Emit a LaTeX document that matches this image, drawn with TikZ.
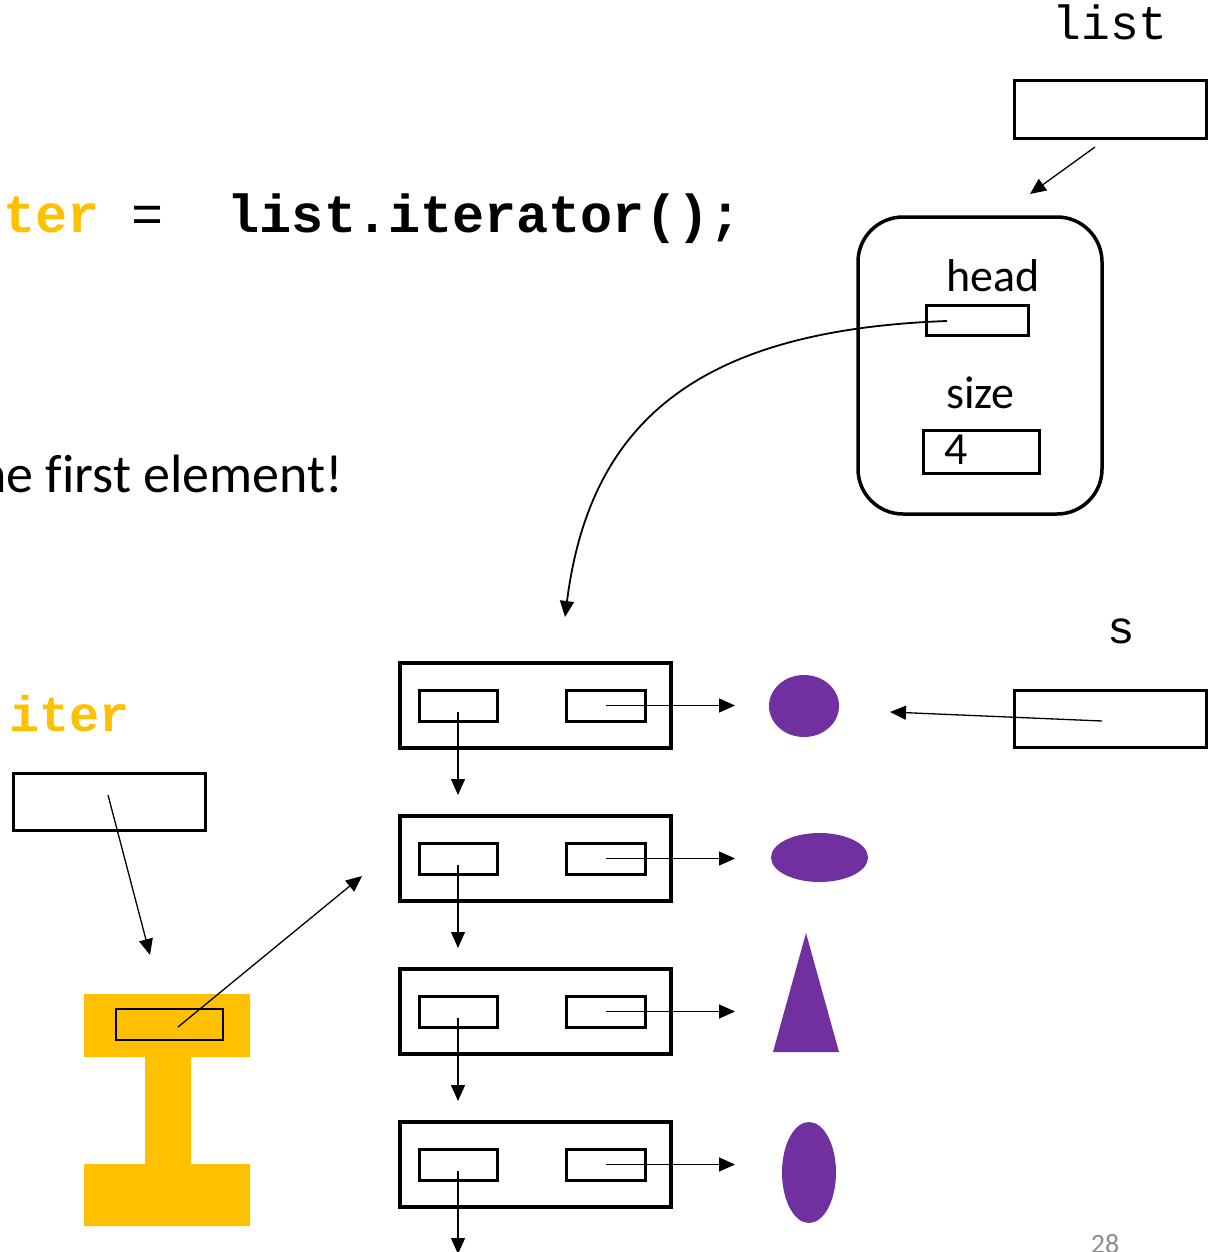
\documentclass[tikz,border=0pt]{standalone}
\usepackage{fontspec}
\setmainfont{Carlito}
\newfontfamily\codefont{Liberation Mono}
\newfontfamily\slidefont[Ligatures=NoCommon]{Carlito}
\usetikzlibrary{arrows.meta,shapes.geometric}
\definecolor{iterYellow}{HTML}{FFC000}
\definecolor{shapePurple}{HTML}{7030A0}
\definecolor{pageGray}{HTML}{8C8C8C}

\begin{document}
\begin{tikzpicture}[x=1pt,y=-1pt,
  ptr/.style={-{Triangle[length=16pt,width=14pt]}, line width=1.3pt},
  cellbox/.style={draw, line width=3pt, inner sep=0pt, outer sep=0pt, fill=white},
  nodebox/.style={draw, line width=3.5pt, inner sep=0pt, outer sep=0pt},
  blob/.style={ellipse, fill=shapePurple, draw=none, inner sep=0pt, outer sep=0pt},
  code/.style={inner sep=0pt, outer sep=0pt, font=\codefont},
  label/.style={inner sep=0pt, outer sep=0pt, font=\slidefont}]
\useasboundingbox (0,0) rectangle (1217,1252);

% code line and remark
\node[code, anchor=base west] (codeline) at (3,233)
  {\fontsize{53.5}{64}\selectfont{\bfseries\color{iterYellow}ter}\ =\ \ {\bfseries list.iterator();}};
\node[label, anchor=base east] (remark) at (343,492)
  {\fontsize{54}{64}\selectfont he first element!};

% the list variable and the list object
\node[code, anchor=base] (listname) at (1110,40) {\fontsize{48}{58}\selectfont list};
\node[cellbox, minimum width=192pt, minimum height=58pt] (listvar) at (1110.5,109.5) {};
\node[draw, line width=3.5pt, rounded corners=45pt, inner sep=0pt,
      minimum width=244pt, minimum height=297pt] (listobj) at (980,365.5) {};
\node[label, anchor=base] (headlbl) at (993,291) {\fontsize{46}{54}\selectfont head};
\node[cellbox, minimum width=102pt, minimum height=30pt] (head) at (977,320) {};
\node[label, anchor=base] (sizelbl) at (980.5,408) {\fontsize{46}{54}\selectfont size};
\node[cellbox, minimum width=116pt, minimum height=43pt] (size) at (981,451.5) {};
\node[label, anchor=base west] (sizeval) at (944,464) {\fontsize{46}{54}\selectfont 4};

\coordinate (listfrom) at (1095,147);
\coordinate (listto) at (1030,194);
\draw[ptr] (listfrom) -- (listto);

\coordinate (headfrom) at (947,321);
\coordinate (headto) at (565,617);
\draw[ptr, line width=1.8pt] (headfrom) .. controls (700,330) and (590,420) .. (headto);

% the chain of list nodes and their elements
\foreach \i/\y in {1/705.5,2/858.5,3/1011.5,4/1164.5}{
  \node[nodebox, minimum width=271pt, minimum height=85pt] (n\i) at (535.5,\y) {};
  \node[cellbox, minimum width=78pt, minimum height=31pt] (l\i) at (458,\y+0.5) {};
  \node[cellbox, minimum width=79pt, minimum height=31pt] (r\i) at (605.5,\y) {};
  \coordinate (e\i) at (735,\y);
  \coordinate (d\i) at (458,\y+89.5);
  \draw[ptr] (r\i.center) -- (e\i);
  \draw[ptr] ([yshift=-6pt]l\i.center) -- (d\i);
}

\node[blob, minimum width=70pt, minimum height=62pt] (o1) at (804,706) {};
\node[blob, minimum width=97pt, minimum height=49pt] (o2) at (819.5,857.5) {};
\fill[shapePurple] (806,933) -- (839,1052) -- (773,1052) -- cycle;
\node[blob, minimum width=54pt, minimum height=101pt] (o4) at (809,1172.5) {};

% the variable s
\node[code, anchor=base] (sname) at (1121,643) {\fontsize{46}{58}\selectfont s};
\node[cellbox, minimum width=192pt, minimum height=57pt] (svar) at (1110.5,718.5) {};
\coordinate (sfrom) at (1102,721);
\coordinate (sto) at (890,712);
\draw[ptr] (sfrom) -- (sto);

% the iterator variable and the iterator object
\node[code, anchor=base] (itername) at (69.5,731)
  {\fontsize{50}{60}\selectfont\bfseries\color{iterYellow}iter};
\node[cellbox, minimum width=192pt, minimum height=57pt] (itervar) at (109,801.5) {};
\fill[iterYellow] (84,994) -- (250,994) -- (250,1057) -- (191,1057) -- (191,1164)
  -- (250,1164) -- (250,1226) -- (84,1226) -- (84,1164) -- (145,1164)
  -- (145,1057) -- (84,1057) -- cycle;
\node[draw, line width=2.5pt, inner sep=0pt, minimum width=107pt, minimum height=31pt]
  (itercur) at (169.5,1024.5) {};
\coordinate (iterfrom) at (108,795);
\coordinate (iterto) at (150,955);
\draw[ptr] (iterfrom) -- (iterto);
\coordinate (curfrom) at (178,1027);
\coordinate (curto) at (362,876);
\draw[ptr] (curfrom) -- (curto);

% page number
\node[label, anchor=base, text=pageGray] (pagenum) at (1105,1253)
  {\fontsize{28}{32}\selectfont 28};
\end{tikzpicture}
\end{document}
